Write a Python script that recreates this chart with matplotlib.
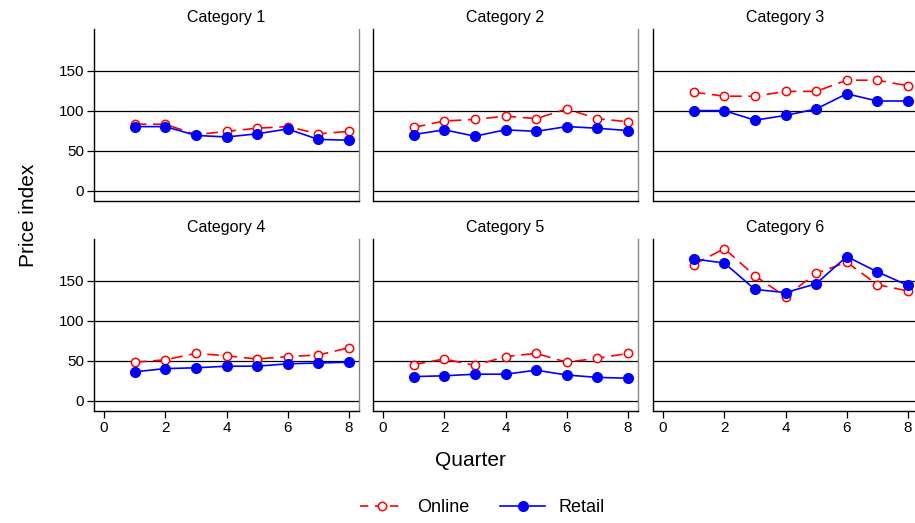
import numpy as np
import matplotlib.pyplot as plt
from matplotlib.lines import Line2D

plt.rcParams['font.family'] = ['Liberation Sans', 'DejaVu Sans']

quarters = [1, 2, 3, 4, 5, 6, 7, 8]
titles = ['Category 1', 'Category 2', 'Category 3',
          'Category 4', 'Category 5', 'Category 6']

online = [
    [83, 83, 70, 74, 78, 80, 71, 74],
    [79, 87, 89, 93, 90, 102, 90, 86],
    [123, 118, 118, 124, 124, 138, 138, 131],
    [48, 51, 59, 56, 52, 55, 57, 66],
    [45, 52, 44, 55, 59, 48, 53, 59],
    [170, 190, 156, 130, 159, 173, 145, 137],
]
retail = [
    [80, 80, 69, 67, 71, 77, 64, 63],
    [70, 76, 68, 76, 74, 80, 78, 75],
    [100, 100, 88, 94, 102, 121, 112, 112],
    [36, 40, 41, 43, 43, 46, 47, 48],
    [30, 31, 33, 33, 38, 32, 29, 28],
    [177, 172, 139, 135, 146, 180, 161, 144],
]

W, H = 915, 523
fig = plt.figure(figsize=(W / 100, H / 100), dpi=100)

# panel boxes in pixels: left, top, width, height
cols = [94, 373, 653]
rows = [29, 239]
pw, ph = 265, 172

for i in range(6):
    r, c = divmod(i, 3)
    ax = fig.add_axes([cols[c] / W, 1 - (rows[r] + ph) / H, pw / W, ph / H])
    for yv in [0, 50, 100, 150]:
        ax.axhline(yv, color='black', lw=0.9, zorder=1)
    ax.plot(quarters, online[i], color='red', lw=1.2, dashes=(7, 4),
            marker='o', ms=6, mfc='white', mec='red', mew=1.1, zorder=3)
    ax.plot(quarters, retail[i], color='blue', lw=1.2,
            marker='o', ms=7, mfc='blue', mec='blue', zorder=4)
    ax.set_xlim(-0.33, 8.33)
    ax.set_ylim(-13, 202)
    ax.set_title(titles[i], fontsize=11.5, pad=5)
    ax.spines['top'].set_visible(False)
    ax.spines['right'].set_color('#888888')
    for s in ['left', 'bottom', 'right']:
        ax.spines[s].set_linewidth(1.0)
    ax.set_yticks([0, 50, 100, 150])
    ax.set_xticks([0, 2, 4, 6, 8])
    ax.tick_params(labelsize=11, length=5, width=0.9, pad=2)
    if c != 0:
        ax.tick_params(axis='y', left=False, labelleft=False)
    if r == 0:
        ax.tick_params(axis='x', bottom=False, labelbottom=False)

fig.text(28 / W, 1 - 215 / H, 'Price index', rotation=90, fontsize=15,
         ha='center', va='center')
fig.text(470 / W, 1 - 461 / H, 'Quarter', fontsize=15, ha='center', va='center')

handles = [
    Line2D([], [], color='red', lw=1.2, dashes=(5, 4), marker='o', ms=6,
           mfc='white', mec='red', mew=1.1),
    Line2D([], [], color='blue', lw=1.2, marker='o', ms=7, mfc='blue'),
]
fig.legend(handles, ['Online', 'Retail'], loc='center',
           bbox_to_anchor=(482 / W, 1 - 508 / H), ncol=2, frameon=False,
           fontsize=13, handlelength=2.5, handletextpad=0.7,
           columnspacing=1.7)

fig.savefig('out.png', dpi=100)
